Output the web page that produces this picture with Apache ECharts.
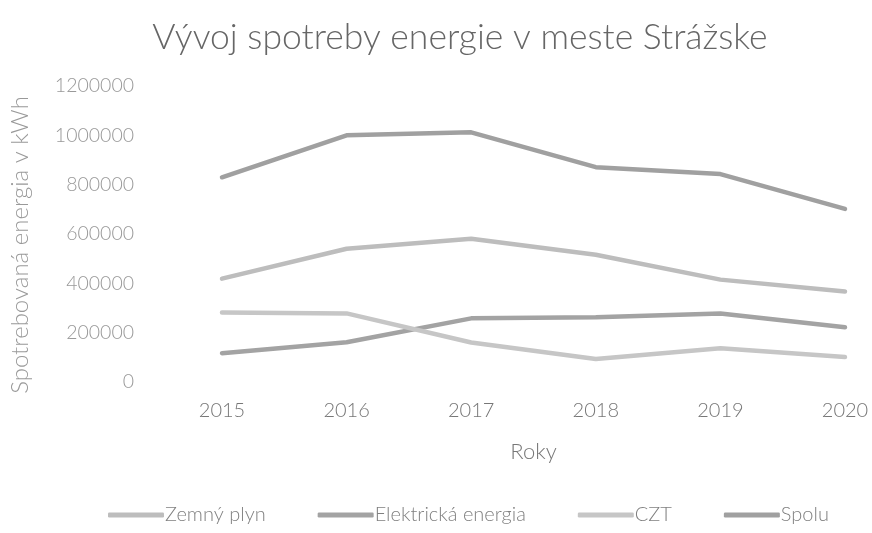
<!DOCTYPE html>
<html>
<head>
<meta charset="utf-8">
<script src="https://cdn.jsdelivr.net/npm/echarts@6/dist/echarts.min.js"></script>
<style>
  html, body { margin: 0; padding: 0; background: #fff; }
  #chart { width: 872px; height: 533px; }
</style>
</head>
<body>
<div id="chart"></div>
<script>
var years = ['2015', '2016', '2017', '2018', '2019', '2020'];
var yTicks = [0, 1200000, 200000]; // min, max, krok
var zemnyPlyn = [419000, 540000, 581000, 516000, 415000, 367000];
var elektricka = [117000, 161000, 258000, 262000, 278000, 222000];
var czt = [282000, 278000, 160000, 93000, 137000, 101000];
var spolu = [830000, 1000000, 1012000, 871000, 843000, 702000];

var font = 'Lato, "Open Sans", sans-serif';

function lineSeries(name, data, color) {
  return {
    name: name,
    type: 'line',
    data: data,
    symbol: 'none',
    lineStyle: { color: color, width: 4.5, cap: 'round' },
    itemStyle: { color: color }
  };
}

var chart = echarts.init(document.getElementById('chart'));
chart.setOption({
  animation: false,
  backgroundColor: '#fff',
  title: {
    text: 'Vývoj spotreby energie v meste Strážske',
    left: 455,
    top: 15,
    textAlign: 'center',
    textStyle: { fontFamily: font, fontWeight: 300, fontSize: 35.5, color: '#666' }
  },
  grid: { left: 216, right: 27, top: 86, bottom: 151, containLabel: false },
  legend: {
    bottom: 3,
    left: 103,
    icon: 'roundRect',
    itemWidth: 56,
    itemHeight: 5,
    itemGap: 52,
    textStyle: { fontFamily: font, fontWeight: 300, fontSize: 20, color: '#808080', padding: [0, 0, 0, -4] },
    data: ['Zemný plyn', 'Elektrická energia', 'CZT', 'Spolu']
  },
  xAxis: {
    type: 'category',
    data: years,
    boundaryGap: false,
    axisLine: { show: false },
    axisTick: { show: false },
    axisLabel: { margin: 19, fontFamily: font, fontWeight: 300, fontSize: 20, color: '#777' },
    name: 'Roky',
    nameLocation: 'middle',
    nameGap: 59,
    nameTextStyle: { fontFamily: font, fontWeight: 300, fontSize: 22, color: '#777' }
  },
  yAxis: {
    type: 'value',
    min: yTicks[0],
    max: yTicks[1],
    interval: yTicks[2],
    splitLine: { show: false },
    axisLine: { show: false },
    axisTick: { show: false },
    axisLabel: {
      margin: 88,
      fontFamily: font,
      fontWeight: 300,
      fontSize: 19.5,
      color: '#999',
      formatter: function (v) { return String(v); }
    },
    name: 'Spotrebovaná energia v kWh',
    nameLocation: 'middle',
    nameGap: 190,
    nameRotate: 90,
    nameTextStyle: { fontFamily: font, fontWeight: 300, fontSize: 24, color: '#999', padding: [0, 22, 0, 0] }
  },
  series: [
    lineSeries('Zemný plyn', zemnyPlyn, '#bdbdbd'),
    lineSeries('Elektrická energia', elektricka, '#a3a3a3'),
    lineSeries('CZT', czt, '#c6c6c6'),
    lineSeries('Spolu', spolu, '#a0a0a0')
  ]
});
</script>
</body>
</html>
